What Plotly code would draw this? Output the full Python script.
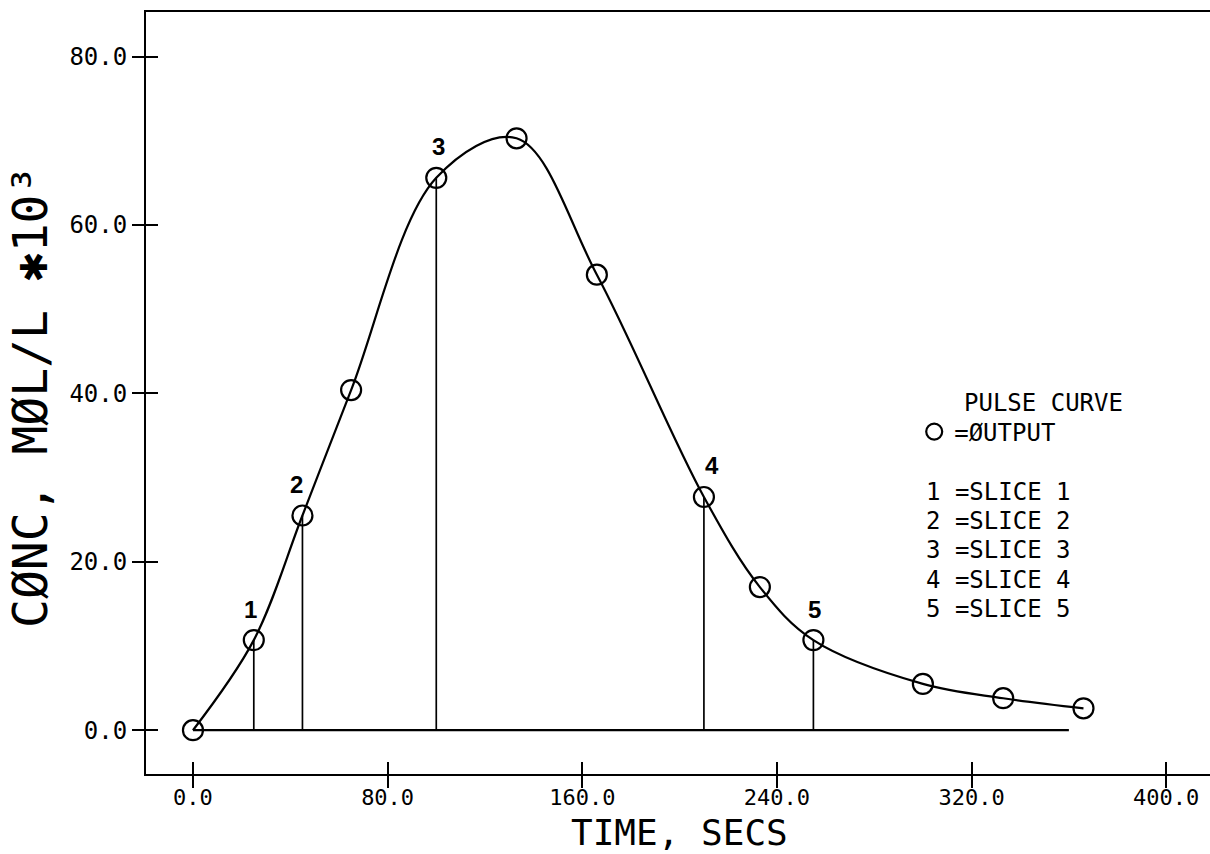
import plotly.graph_objects as go

# ---- data ----
time_s = [0, 25, 45, 65, 100, 133, 166, 210, 233, 255, 300, 333, 366]
conc = [0.0, 10.7, 25.5, 40.4, 65.6, 70.3, 54.1, 27.7, 17.0, 10.7, 5.5, 3.8, 2.6]

slice_ids = ["1", "2", "3", "4", "5"]
slice_t = [25, 45, 100, 210, 255]
slice_v = [10.7, 25.5, 65.6, 27.7, 10.7]

baseline_x = [0, 360]
baseline_y = [0, 0]

x_tickvals = [0, 80, 160, 240, 320, 400]
x_ticktext = ["0.0", "80.0", "160.0", "240.0", "320.0", "400.0"]
y_tickvals = [0, 20, 40, 60, 80]
y_ticktext = ["0.0", "20.0", "40.0", "60.0", "80.0"]

legend_title = "PULSE CURVE"
legend_output = "=ØUTPUT"
legend_slices = [f"{s} =SLICE {s}" for s in slice_ids]

x_title = "TIME, SECS"
y_title = "CØNC, MØL/L ✱10³"

# ---- styling ----
X_RANGE = [-19.3, 418.0]
Y_RANGE = [-5.2, 85.3]
MONO = "DejaVu Sans Mono"
slice_label_xshift = [-3, -6, 2, 8, 1]

fig = go.Figure()

# baseline
fig.add_trace(go.Scatter(x=baseline_x, y=baseline_y, mode="lines",
                         line=dict(color="black", width=2.2),
                         showlegend=False, hoverinfo="skip"))

# slice verticals
vx, vy = [], []
for t, v in zip(slice_t, slice_v):
    vx += [t, t, None]
    vy += [0, v, None]
fig.add_trace(go.Scatter(x=vx, y=vy, mode="lines",
                         line=dict(color="black", width=1.7),
                         showlegend=False, hoverinfo="skip"))

# smooth curve
fig.add_trace(go.Scatter(x=time_s, y=conc, mode="lines",
                         line=dict(color="black", width=2.2, shape="spline", smoothing=1.0),
                         showlegend=False))

# output markers
fig.add_trace(go.Scatter(x=time_s, y=conc, mode="markers", name=legend_output,
                         marker=dict(symbol="circle-open", size=20, color="black",
                                     line=dict(color="black", width=2.2)),
                         showlegend=True))

# dummy trace for overlay axes (inside ticks)
fig.add_trace(go.Scatter(x=[None], y=[None], xaxis="x2", yaxis="y2",
                         showlegend=False, hoverinfo="skip"))

# slice labels
for sid, t, v, xs in zip(slice_ids, slice_t, slice_v, slice_label_xshift):
    fig.add_annotation(x=t, y=v, text=sid, showarrow=False, yshift=31, xshift=xs,
                       font=dict(family="Liberation Sans", size=24, color="black", weight="bold"))

# legend-like text block
fig.add_annotation(xref="paper", yref="paper", x=0.767, y=0.4869, xanchor="left",
                   yanchor="middle", text=legend_title, showarrow=False,
                   font=dict(family=MONO, size=24, color="black"))
slice_rows_y = [0.3701, 0.3320, 0.2940, 0.2546, 0.2165]
for txt, yy in zip(legend_slices, slice_rows_y):
    fig.add_annotation(xref="paper", yref="paper", x=0.7312, y=yy, xanchor="left",
                       yanchor="middle", text=txt, showarrow=False,
                       font=dict(family=MONO, size=24, color="black"))

# axis titles
fig.add_annotation(xref="paper", yref="paper", x=0.5015, y=-80 / 762, xanchor="center",
                   yanchor="bottom", text=x_title, showarrow=False, borderpad=0,
                   font=dict(family=MONO, size=36, color="black"))
fig.add_annotation(xref="paper", yref="paper", x=-0.109, y=0.4948, xanchor="center",
                   yanchor="middle", text=y_title, showarrow=False, textangle=-90,
                   font=dict(family=MONO, size=48, color="black"))

axis_common = dict(showgrid=False, zeroline=False)
fig.update_layout(
    width=1210, height=854,
    margin=dict(l=146, r=0, t=12, b=80),
    paper_bgcolor="white", plot_bgcolor="white",
    xaxis=dict(range=X_RANGE, showline=True, linecolor="black", linewidth=2, mirror=True,
               ticks="outside", ticklen=12, tickwidth=2, tickcolor="black",
               tickmode="array", tickvals=x_tickvals, ticktext=x_ticktext,
               ticklabelstandoff=-9,
               tickfont=dict(family=MONO, size=22, color="black"), **axis_common),
    yaxis=dict(range=Y_RANGE, showline=True, linecolor="black", linewidth=2,
               ticks="outside", ticklen=12, tickwidth=2, tickcolor="black",
               tickmode="array", tickvals=y_tickvals, ticktext=y_ticktext,
               tickfont=dict(family=MONO, size=24, color="black"), **axis_common),
    xaxis2=dict(range=X_RANGE, overlaying="x", anchor="y", side="bottom",
                ticks="inside", ticklen=12, tickwidth=2, tickcolor="black",
                tickmode="array", tickvals=x_tickvals, showticklabels=False,
                showline=False, **axis_common),
    yaxis2=dict(range=Y_RANGE, overlaying="y", anchor="x", side="left",
                ticks="inside", ticklen=12, tickwidth=2, tickcolor="black",
                tickmode="array", tickvals=y_tickvals, showticklabels=False,
                showline=False, **axis_common),
    legend=dict(x=0.722, y=0.4488, xanchor="left", yanchor="middle",
                bgcolor="rgba(0,0,0,0)", borderwidth=0,
                font=dict(family=MONO, size=24, color="black"), itemwidth=30),
    showlegend=True,
)

fig.write_html("out.html")
